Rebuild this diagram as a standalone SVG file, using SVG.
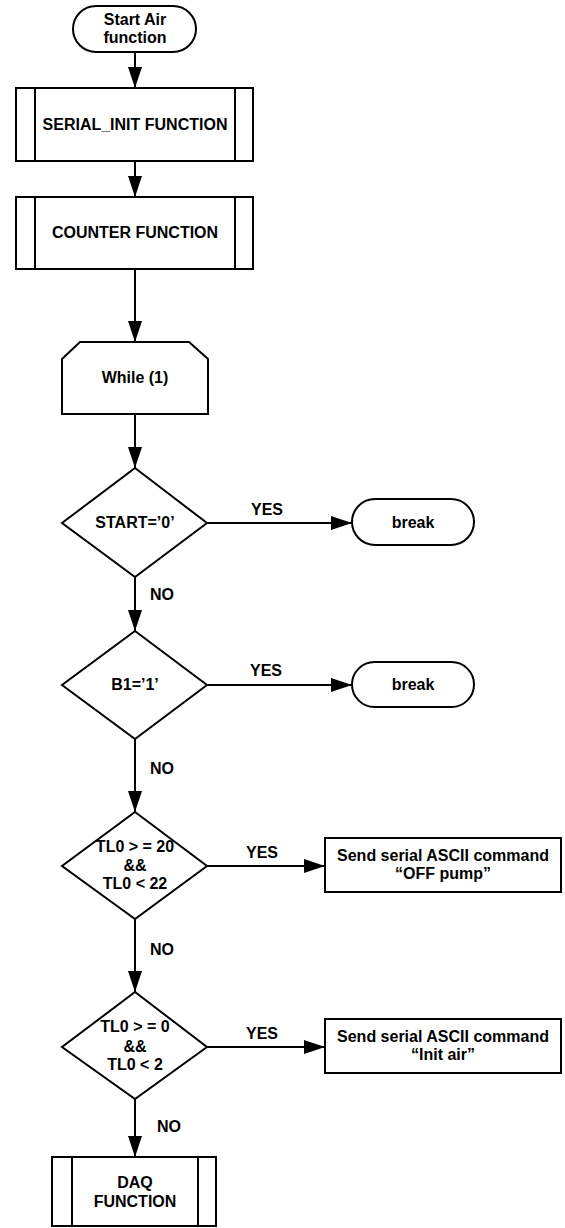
<svg xmlns="http://www.w3.org/2000/svg" width="565" height="1228" viewBox="0 0 565 1228">
<style>
.s{fill:#fff;stroke:#000;stroke-width:2}
.l{fill:none;stroke:#000;stroke-width:2}
.c{stroke:#000;stroke-width:2;fill:none;marker-end:url(#ah)}
text{font-family:"Liberation Sans",Arial,sans-serif;font-weight:bold;font-size:16px;fill:#000}
.m{text-anchor:middle}
</style>
<defs>
<marker id="ah" markerUnits="userSpaceOnUse" markerWidth="22" markerHeight="14" refX="21" refY="7" orient="auto">
<path d="M0,0 L21,7 L0,14 z" fill="#000"/>
</marker>
</defs>
<rect width="565" height="1228" fill="#fff"/>
<g id="connectors">
<line class="c" x1="135" y1="52" x2="135" y2="88"/>
<line class="c" x1="135" y1="161" x2="135" y2="197"/>
<line class="c" x1="135" y1="269" x2="135" y2="342"/>
<line class="c" x1="135" y1="414" x2="135" y2="468"/>
<line class="c" x1="207" y1="523" x2="352" y2="523"/>
<line class="c" x1="135" y1="577" x2="135" y2="631"/>
<line class="c" x1="207" y1="685" x2="352" y2="685"/>
<line class="c" x1="135" y1="739" x2="135" y2="812"/>
<line class="c" x1="207" y1="866" x2="325" y2="866"/>
<line class="c" x1="135" y1="919" x2="135" y2="992"/>
<line class="c" x1="207" y1="1047" x2="325" y2="1047"/>
<line class="c" x1="135" y1="1099" x2="135" y2="1157"/>
<text class="m" x="267" y="515">YES</text>
<text class="m" x="266" y="676">YES</text>
<text class="m" x="262" y="858">YES</text>
<text class="m" x="262" y="1039">YES</text>
<text x="150" y="600">NO</text>
<text x="150" y="774">NO</text>
<text x="150" y="955">NO</text>
<text x="157" y="1132">NO</text>
</g>
<g id="start">
<rect class="s" x="73" y="6" width="123" height="46" rx="23"/>
<text class="m" x="135" y="25">Start Air</text>
<text class="m" x="135" y="43">function</text>
</g>
<g id="serial_init">
<rect class="s" x="16" y="88" width="237" height="73"/>
<line class="l" x1="35" y1="88" x2="35" y2="161"/>
<line class="l" x1="235" y1="88" x2="235" y2="161"/>
<text class="m" x="135" y="130">SERIAL_INIT FUNCTION</text>
</g>
<g id="counter">
<rect class="s" x="16" y="197" width="237" height="72"/>
<line class="l" x1="35" y1="197" x2="35" y2="269"/>
<line class="l" x1="235" y1="197" x2="235" y2="269"/>
<text class="m" x="135" y="238">COUNTER FUNCTION</text>
</g>
<g id="while">
<path class="s" d="M80,342 L189,342 L208,359 L208,414 L62,414 L62,359 Z"/>
<text class="m" x="135" y="383">While (1)</text>
</g>
<g id="d_start">
<path class="s" d="M135,468 L207,523 L135,577 L62,523 Z"/>
<text class="m" x="135" y="528">START=’0’</text>
</g>
<g id="break1">
<rect class="s" x="352" y="499" width="122" height="46" rx="23"/>
<text class="m" x="413" y="528">break</text>
</g>
<g id="d_b1">
<path class="s" d="M135,631 L207,685 L135,739 L62,685 Z"/>
<text class="m" x="135" y="690">B1=’1’</text>
</g>
<g id="break2">
<rect class="s" x="352" y="662" width="122" height="45" rx="22.5"/>
<text class="m" x="413" y="690">break</text>
</g>
<g id="d_tl20">
<path class="s" d="M135,812 L207,866 L135,919 L62,866 Z"/>
<text class="m" x="135" y="852">TL0 &gt; = 20</text>
<text class="m" x="135" y="871">&amp;&amp;</text>
<text class="m" x="135" y="889">TL0 &lt; 22</text>
</g>
<g id="send_off">
<rect class="s" x="325" y="838" width="236" height="54"/>
<text class="m" x="443" y="861">Send serial ASCII command</text>
<text class="m" x="443" y="879">“OFF pump”</text>
</g>
<g id="d_tl0">
<path class="s" d="M135,992 L207,1047 L135,1099 L62,1047 Z"/>
<text class="m" x="135" y="1032">TL0 &gt; = 0</text>
<text class="m" x="135" y="1052">&amp;&amp;</text>
<text class="m" x="135" y="1070">TL0 &lt; 2</text>
</g>
<g id="send_init">
<rect class="s" x="325" y="1019" width="236" height="54"/>
<text class="m" x="443" y="1042">Send serial ASCII command</text>
<text class="m" x="443" y="1060">“Init air”</text>
</g>
<g id="daq">
<rect class="s" x="52" y="1157" width="164" height="69"/>
<line class="l" x1="72" y1="1157" x2="72" y2="1226"/>
<line class="l" x1="198" y1="1157" x2="198" y2="1226"/>
<text class="m" x="135" y="1188">DAQ</text>
<text class="m" x="135" y="1207">FUNCTION</text>
</g>
</svg>
